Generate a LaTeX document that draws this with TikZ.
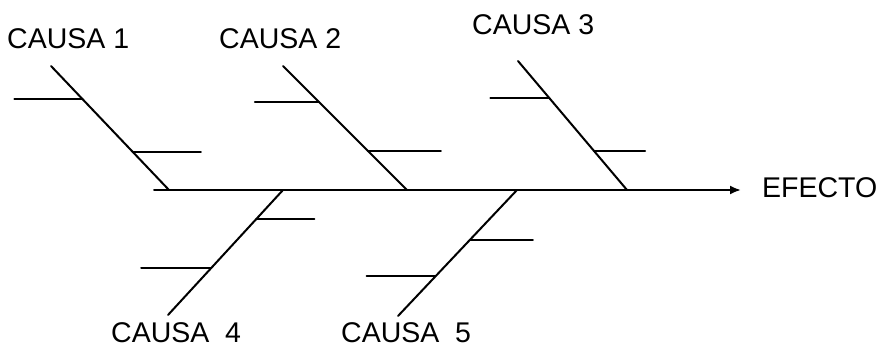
\documentclass[tikz,border=0pt]{standalone}
\usepackage{fontspec}
\setmainfont{Liberation Sans}
\usetikzlibrary{calc,arrows.meta}
\begin{document}
\begin{tikzpicture}[x=1pt,y=-1pt,
  bone/.style={line width=2pt, line cap=round},
  lbl/.style={inner sep=0pt, anchor=base west, font=\fontsize{28.5}{32}\selectfont}]
\useasboundingbox (0,0) rectangle (882,347);
% spine
\coordinate (s0) at (154,190);
\coordinate (s1) at (741,190);
\draw[bone, -{Latex[length=11pt,width=9pt]}] (s0) -- (s1);
\node[lbl] (efecto) at (762,197) {EFECTO};
% cause 1
\coordinate (c1t) at (51,66); \coordinate (c1b) at (169,190);
\draw[bone] (c1t) -- (c1b);
\coordinate (c1u) at ($(c1t)!0.266!(c1b)$);
\coordinate (c1l) at ($(c1t)!0.694!(c1b)$);
\draw[bone] (c1u) -- ++(-68,0);
\draw[bone] (c1l) -- ++(68,0);
\node[lbl] (cau1) at (7,49) {CAUSA 1};
% cause 2
\coordinate (c2t) at (283,66); \coordinate (c2b) at (407,190);
\draw[bone] (c2t) -- (c2b);
\coordinate (c2u) at ($(c2t)!0.29!(c2b)$);
\coordinate (c2l) at ($(c2t)!0.685!(c2b)$);
\draw[bone] (c2u) -- ++(-64,0);
\draw[bone] (c2l) -- ++(73,0);
\node[lbl] (cau2) at (219,49) {CAUSA 2};
% cause 3
\coordinate (c3t) at (518,61); \coordinate (c3b) at (627,190);
\draw[bone] (c3t) -- (c3b);
\coordinate (c3u) at ($(c3t)!0.287!(c3b)$);
\coordinate (c3l) at ($(c3t)!0.698!(c3b)$);
\draw[bone] (c3u) -- ++(-59,0);
\draw[bone] (c3l) -- ++(51,0);
\node[lbl] (cau3) at (472,35) {CAUSA 3};
% cause 4
\coordinate (c4t) at (283,190); \coordinate (c4b) at (168,315);
\draw[bone] (c4t) -- (c4b);
\coordinate (c4u) at ($(c4t)!0.232!(c4b)$);
\coordinate (c4l) at ($(c4t)!0.624!(c4b)$);
\draw[bone] (c4u) -- ++(58,0);
\draw[bone] (c4l) -- ++(-70,0);
\node[lbl] (cau4) at (111,342) {CAUSA\ \ 4};
% cause 5
\coordinate (c5t) at (517,190); \coordinate (c5b) at (398,316);
\draw[bone] (c5t) -- (c5b);
\coordinate (c5u) at ($(c5t)!0.397!(c5b)$);
\coordinate (c5l) at ($(c5t)!0.683!(c5b)$);
\draw[bone] (c5u) -- ++(63,0);
\draw[bone] (c5l) -- ++(-69,0);
\node[lbl] (cau5) at (341,342) {CAUSA\ \ 5};
\end{tikzpicture}
\end{document}
